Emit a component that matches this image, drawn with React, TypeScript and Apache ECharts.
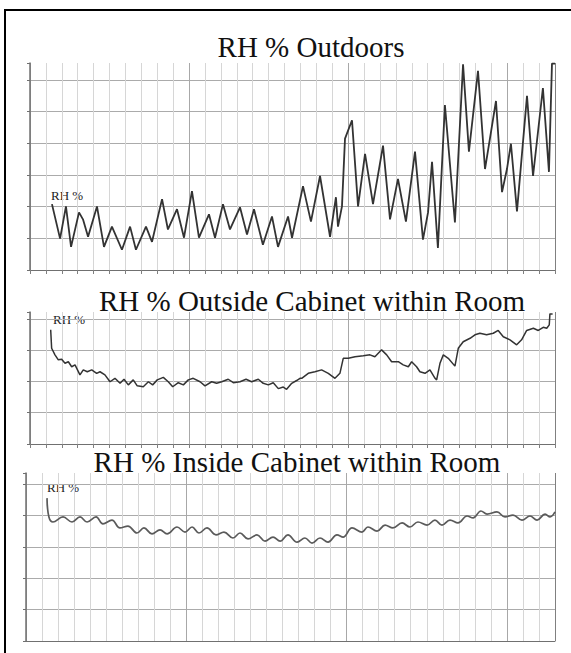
import React, { useEffect, useRef } from "react";
import * as echarts from "echarts";

// Outdoors (x in grid-cell units 0–33, y in RH %-like units: 10 per gridline)
const outdoorsX = [1.38,1.89,2.26,2.58,3.08,3.33,3.65,4.21,4.65,5.15,5.78,6.29,6.66,7.29,7.67,8.30,8.67,9.24,9.68,10.18,10.62,11.25,11.63,12.13,12.57,13.2,13.64,14.08,14.64,15.21,15.59,16.22,16.47,17.16,17.66,18.23,18.86,19.23,19.36,19.61,19.80,20.24,20.62,21.06,21.56,22.19,22.63,23.13,23.63,24.20,24.70,25.02,25.27,25.64,26.08,26.71,27.22,27.59,28.16,28.6,28.91,29.29,29.67,29.98,30.23,30.61,31.24,31.62,32.24,32.62,32.81,33.0];
const outdoorsY = [20.8,9.9,20.1,7.3,18.2,16.0,10.5,20.1,7.3,13.7,6.4,13.7,6.4,13.7,8.9,22.4,12.8,19.2,10.2,24.9,10.2,17.6,10.2,20.8,12.8,19.8,11.2,19.2,8.0,16.9,7.3,16.9,10.2,26.5,15.3,29.7,10.5,23.0,13.7,20.1,41.5,47.3,20.1,36.7,20.8,39.3,16.0,28.8,15.3,37.4,9.6,18.2,34.2,7.0,52.1,15.0,65.0,37.4,62.9,31.9,41.5,53.4,24.6,31.9,39.9,18.5,55.0,29.7,57.5,31.0,65.2,65.2];

const outsideCabX = [1.30,1.36,1.57,1.78,1.99,2.20,2.41,2.62,2.83,3.14,3.35,3.60,3.88,4.19,4.40,4.71,5.03,5.34,5.66,5.91,6.18,6.49,6.74,7.12,7.44,7.71,8.00,8.38,8.69,8.97,9.32,9.64,9.95,10.26,10.69,11.00,11.42,11.73,12.05,12.46,12.78,13.20,13.58,13.93,14.35,14.66,14.98,15.29,15.61,15.92,16.13,16.45,16.76,16.97,17.08,17.49,17.91,18.33,18.75,19.17,19.48,19.69,20.01,20.43,20.95,21.37,21.68,22.10,22.42,22.73,23.15,23.46,23.78,23.99,24.30,24.51,24.83,25.14,25.46,25.56,25.77,25.98,26.29,26.71,26.92,27.23,27.66,27.97,28.28,28.70,29.12,29.43,29.75,30.17,30.59,30.90,31.22,31.64,31.95,32.26,32.48,32.64,32.68,32.85];
const outsideCabY = [36.5,30.6,28.5,26.9,27.1,25.8,26.3,24.7,25.3,22.1,23.7,23.1,23.7,22.6,23.1,22.1,19.9,21.0,19.4,20.7,18.9,20.5,18.6,18.3,19.9,18.9,20.5,21.3,19.9,18.3,19.6,18.9,20.5,21.0,19.9,18.6,19.9,19.4,19.9,20.7,19.6,19.9,20.7,19.9,20.7,19.4,18.9,19.6,17.7,18.2,17.5,19.4,20.3,21.0,21.0,22.6,23.1,23.7,22.6,21.0,22.6,27.4,27.4,27.9,28.2,28.5,27.9,30.1,28.5,26.3,26.3,25.3,24.7,26.3,24.7,23.1,22.6,23.7,21.0,20.5,25.8,28.5,27.4,24.9,30.6,32.7,33.8,34.9,35.4,34.9,35.4,36.3,34.3,33.3,31.7,33.3,36.3,37.0,36.3,37.3,37.0,38.1,41.6,41.6];

const insideCabX = [1.31,1.43,1.68,2.31,2.87,3.37,3.81,4.37,4.80,5.36,5.86,6.36,6.92,7.36,7.86,8.36,8.80,9.42,9.92,10.36,10.79,11.29,11.85,12.35,12.91,13.35,13.85,14.41,14.91,15.41,15.85,16.34,16.91,17.40,17.84,18.34,18.84,19.40,19.78,20.34,20.96,21.33,21.90,22.40,22.89,23.46,23.95,24.45,25.02,25.51,25.95,26.45,26.95,27.51,27.89,28.38,28.76,29.38,29.88,30.38,30.94,31.44,31.88,32.38,32.69,33.0];
const insideCabY = [45.5,39.5,37.9,39.5,37.9,39.5,37.9,39.5,37.3,38.5,36.0,36.6,34.4,36.0,34.1,35.4,34.1,36.3,34.7,36.3,34.4,36.0,33.8,34.7,32.8,34.4,32.5,33.8,31.8,33.1,31.8,33.8,31.5,32.8,31.2,32.8,31.5,33.8,33.1,36.0,34.7,36.3,35.0,36.9,36.0,37.6,36.3,37.9,36.9,38.5,36.9,38.5,37.6,39.8,39.2,41.4,40.4,41.1,39.5,40.1,38.5,39.8,38.5,40.4,39.5,41.1];

const titles = ["RH % Outdoors", "RH % Outside Cabinet within Room", "RH % Inside Cabinet within Room"];
const axisName = "RH %";
const xMax = 33;
const yMaxes = [65.4, 42.2, 53.5];

const pairs = (xs: number[], ys: number[]) => xs.map((x, i) => [x, ys[i]]);

export default function App() {
  const ref = useRef<HTMLDivElement>(null);
  useEffect(() => {
    if (!ref.current) return;
    const chart = echarts.init(ref.current, null, { renderer: "svg" });
    const grids = [
      { left: 30, right: 16, top: 63, height: 207 },
      { left: 30, right: 16, top: 312, height: 132 },
      { left: 26, right: 16, top: 473, height: 168 },
    ];
    const vColors: string[] = [];
    for (let i = 0; i <= xMax; i++) {
      vColors.push(i === xMax ? "#808080" : i % 10 === 0 ? "#a8a8a8" : "#d6d6d6");
    }
    const xAxes = grids.map((_, gi) => ({
      type: "value",
      gridIndex: gi,
      min: 0,
      max: xMax,
      interval: 1,
      axisLabel: { show: false },
      axisLine: { show: true, lineStyle: { color: "#707070", width: 1 } },
      axisTick: { show: gi < 2, length: 4, lineStyle: { color: "#808080" } },
      splitLine: { show: true, lineStyle: { color: vColors, width: 1 } },
    }));
    const yAxes = grids.map((_, gi) => ({
      type: "value",
      gridIndex: gi,
      min: 0,
      max: yMaxes[gi],
      interval: 10,
      axisLabel: { show: false },
      axisLine: { show: true, lineStyle: { color: "#707070", width: 1.5 } },
      axisTick: { show: true, length: 3, lineStyle: { color: "#707070" } },
      splitLine: { show: true, showMaxLine: false, lineStyle: { color: "#ababab", width: 1 } },
    }));
    const lineBase = { type: "line", showSymbol: false, symbol: "none" };
    const titleFont = { fontFamily: "'Liberation Serif', 'Times New Roman', serif", fontSize: 29, fill: "#111", align: "center", verticalAlign: "middle" };
    const labelFont = { fontFamily: "'Liberation Serif', 'Times New Roman', serif", fontSize: 13, fill: "#222", align: "left", verticalAlign: "top" };
    chart.setOption({
      animation: false,
      backgroundColor: "#ffffff",
      grid: grids,
      xAxis: xAxes,
      yAxis: yAxes,
      series: [
        { ...lineBase, xAxisIndex: 0, yAxisIndex: 0, data: pairs(outdoorsX, outdoorsY), lineStyle: { color: "#333333", width: 1.8 } },
        { ...lineBase, xAxisIndex: 1, yAxisIndex: 1, data: pairs(outsideCabX, outsideCabY), lineStyle: { color: "#333333", width: 1.5 } },
        { ...lineBase, xAxisIndex: 2, yAxisIndex: 2, smooth: 0.4, data: pairs(insideCabX, insideCabY), lineStyle: { color: "#5a5a5a", width: 1.7 } },
      ],
      graphic: [
        { type: "rect", shape: { x: 5, y: 10, width: 570, height: 650 }, style: { fill: "none", stroke: "#000", lineWidth: 2 }, silent: true },
        { type: "text", x: 311, y: 47, style: { text: titles[0], ...titleFont } },
        { type: "text", x: 312, y: 301, style: { text: titles[1], ...titleFont } },
        { type: "text", x: 297, y: 462, style: { text: titles[2], ...titleFont } },
        { type: "text", x: 51, y: 189, style: { text: axisName, ...labelFont } },
        { type: "text", x: 53, y: 313, style: { text: axisName, ...labelFont } },
        { type: "text", x: 47, y: 481, style: { text: axisName, ...labelFont } },
      ],
    });
    return () => chart.dispose();
  }, []);
  return <div ref={ref} style={{ position: "fixed", left: 0, top: 0, width: 571, height: 653 }} />;
}
